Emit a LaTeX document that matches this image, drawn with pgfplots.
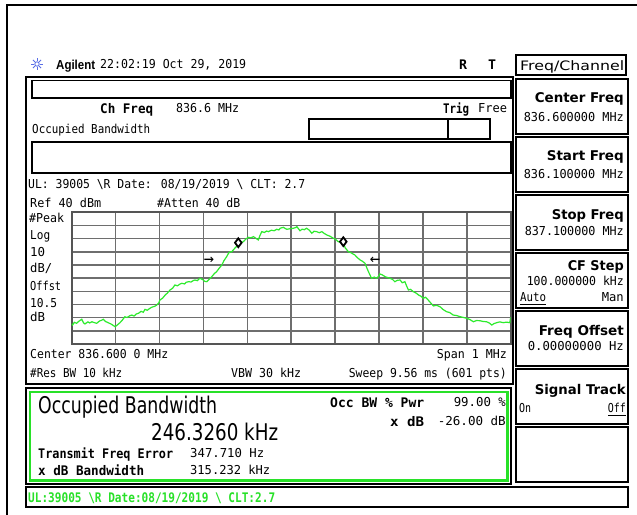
\documentclass[border=0pt]{standalone}
\usepackage{fontspec}
\usepackage{graphicx}
\usepackage{pgfplots}
\pgfplotsset{compat=1.18}
\setmainfont{DejaVu Sans}
\newfontfamily\mono{DejaVu Sans Mono}
\newfontfamily\arial{Liberation Sans}

\definecolor{trace}{RGB}{45,235,45}
\definecolor{scrgreen}{RGB}{40,225,40}
\definecolor{gridc}{RGB}{110,110,110}
\definecolor{framec}{RGB}{85,85,85}
\definecolor{logo}{RGB}{90,110,230}

% squeeze a piece of text to the width it has on the screen
\newcommand\fit[2]{\resizebox{#1pt}{\height}{#2}}
\newcommand\Lt[4]{\node[anchor=base west,inner sep=0pt] at (#1,#2) {\fit{#3}{#4}};}
\newcommand\Rt[4]{\node[anchor=base east,inner sep=0pt] at (#1,#2) {\fit{#3}{#4}};}
\newcommand\smt{\mono\fontsize{12.3}{14}\selectfont}
\newcommand\bmt{\mono\bfseries\fontsize{13.2}{15}\selectfont}
\newcommand\bst{\bfseries\fontsize{13.4}{15}\selectfont}
\newcommand\bigt{\fontsize{23}{26}\selectfont}

\begin{document}
\begin{tikzpicture}
\begin{scope}[x=1pt,y=-1pt]
\path[use as bounding box, fill=white] (0,0) rectangle (637,514);

% outer frame
\draw[line width=2pt] (7,520) -- (7,5) -- (640,5);

% header
\foreach \a in {0,45,...,315} \draw[logo, line width=0.8pt] (37,64) ++(\a:2.6) -- ++(\a:3.2);
\draw[logo, line width=0.8pt] (37,64) circle (2.2);
\Lt{56}{69}{39}{\arial\bfseries\fontsize{13}{15}\selectfont Agilent}
\Lt{100}{68.5}{146}{\smt 22:02:19  Oct 29, 2019}
\Lt{459}{69}{8}{\bmt R}
\Lt{488}{69}{8}{\bmt T}
\draw[line width=1.6pt] (516,55) rectangle (626,75);
\Lt{520}{70}{104}{\fontsize{13}{15}\selectfont Freq/Channel}

% main panel
\draw[line width=1.8pt] (26,77) rectangle (513,384);
\draw[line width=1.8pt] (32,80.5) rectangle (511,98);
\Lt{100}{113}{53}{\bmt Ch Freq}
\Lt{176}{112.5}{63}{\smt 836.6 MHz}
\Lt{443}{113}{26}{\bmt Trig}
\Lt{478}{112.5}{29}{\smt Free}
\Lt{32}{133.5}{118}{\smt Occupied Bandwidth}
\draw[line width=1.3pt] (309,119) rectangle (490,139);
\draw[line width=2.2pt] (448,119) -- (448,139);
\draw[line width=1.8pt] (32,142) rectangle (511,173);
\Lt{28}{188.5}{277}{\smt UL: 39005 \textbackslash R Date: 08/19/2019 \textbackslash{} CLT: 2.7}
\Lt{30}{207.5}{71}{\smt Ref 40 dBm}
\Lt{157}{207.5}{83}{\smt \#Atten 40 dB}
\Lt{29}{222.5}{35}{\smt \#Peak}
\Lt{30}{239.5}{20}{\smt Log}
\Lt{30}{256.5}{15}{\smt 10}
\Lt{30}{272.5}{22}{\smt dB/}
\Lt{30}{290.5}{31}{\smt Offst}
\Lt{30}{307}{27}{\smt 10.5}
\Lt{30}{321}{15}{\smt dB}
\Lt{30}{358.5}{138}{\smt Center 836.600 0 MHz}
\Rt{507}{358.5}{70}{\smt Span 1 MHz}
\Lt{30}{377.5}{92}{\smt \#Res BW 10 kHz}
\Lt{231}{377.5}{70}{\smt VBW 30 kHz}
\Rt{507}{377.5}{158}{\smt Sweep 9.56 ms (601 pts)}

% result box
\draw[line width=1.4pt] (26,388) rectangle (511,484);
\draw[scrgreen, line width=2.6pt] (29.8,391.8) rectangle (507.2,480.2);
\Lt{38}{413.5}{179}{\bigt Occupied Bandwidth}
\Lt{151}{440.5}{127}{\bigt 246.3260 kHz}
\Lt{330}{407}{94}{\bmt Occ BW \% Pwr}
\Rt{506}{406.5}{52}{\smt 99.00 \%}
\Lt{390}{426}{34}{\bmt x dB}
\Rt{506}{425.5}{68}{\smt -26.00 dB}
\Lt{38}{458}{135}{\bmt Transmit Freq Error}
\Lt{190}{457.5}{74}{\smt 347.710 Hz}
\Lt{38}{475.5}{106}{\bmt x dB Bandwidth}
\Lt{190}{474.5}{80}{\smt 315.232 kHz}

% bottom line
\draw[line width=1.5pt] (26,487) rectangle (628,507);
\Lt{28}{502.5}{247}{\color{scrgreen}\bmt UL:39005 \textbackslash R Date:08/19/2019 \textbackslash{} CLT:2.7}

% softkeys
\foreach \t in {79,137,195,253,311,369,427}
  \draw[line width=1.8pt] (516,\t) rectangle (628,\t+55);
\Rt{624}{102}{89}{\bst Center Freq}
\Rt{624}{121.5}{100}{\smt 836.600000 MHz}
\Rt{624}{160}{77}{\bst Start Freq}
\Rt{624}{178.5}{100}{\smt 836.100000 MHz}
\Rt{624}{219}{72}{\bst Stop Freq}
\Rt{624}{235.5}{99}{\smt 837.100000 MHz}
\Rt{624}{270}{56}{\bst CF Step}
\Rt{624}{285.5}{97}{\smt 100.000000 kHz}
\Lt{520}{301.5}{26}{\smt Auto}
\draw[line width=0.8pt] (520,304) -- (546,304);
\Rt{624}{301.5}{22}{\smt Man}
\Rt{624}{335}{85}{\bst Freq Offset}
\Rt{624}{350.5}{96}{\smt 0.00000000  Hz}
\Rt{626}{394}{91}{\bst Signal Track}
\Lt{519}{412.5}{12}{\smt On}
\Rt{626}{412.5}{18}{\smt Off}
\draw[line width=0.8pt] (608,415) -- (626,415);
\end{scope}

% trace window
\begin{axis}[
    at={(71.7pt,-212.3pt)}, anchor=north west,
    width=439pt, height=131.7pt, scale only axis,
    xmin=836.1, xmax=837.1, ymin=-60, ymax=40,
    xtick={836.1,836.2,836.3,836.4,836.5,836.6,836.7,836.8,836.9,837.0,837.1},
    ytick={-60,-50,-40,-30,-20,-10,0,10,20,30,40},
    xticklabels={}, yticklabels={},
    major tick length=0pt,
    grid=major,
    grid style={draw=gridc, line width=1.5pt},
    axis line style={draw=framec, line width=1.8pt},
  ]
\addplot[trace, line width=1.2pt] coordinates {
(836.100,-44.8) (836.102,-45.6) (836.106,-43.5) (836.111,-44.3) (836.116,-42.8)
(836.123,-41.2) (836.127,-43.9) (836.130,-44.8) (836.137,-43.2) (836.141,-44.0)
(836.146,-43.1) (836.151,-43.7) (836.157,-44.3) (836.163,-42.6) (836.168,-42.0)
(836.172,-41.2) (836.177,-42.9) (836.183,-43.8) (836.190,-44.9) (836.195,-46.0)
(836.199,-46.9) (836.204,-45.5) (836.210,-43.8) (836.215,-42.0) (836.221,-39.3)
(836.226,-39.9) (836.232,-38.6) (836.237,-38.0) (836.242,-38.8) (836.247,-37.2)
(836.252,-36.7) (836.258,-35.2) (836.263,-35.9) (836.267,-33.7) (836.272,-34.4)
(836.278,-32.9) (836.283,-32.0) (836.289,-31.4) (836.294,-30.4) (836.298,-29.0)
(836.301,-26.6) (836.307,-25.2) (836.313,-22.8) (836.318,-21.3) (836.324,-19.0)
(836.330,-17.6) (836.335,-15.2) (836.341,-15.8) (836.346,-14.6) (836.351,-13.9)
(836.357,-14.4) (836.361,-13.1) (836.366,-12.7) (836.372,-12.9) (836.377,-11.8)
(836.381,-11.4) (836.386,-11.9) (836.392,-10.1) (836.398,-11.0) (836.403,-12.4)
(836.408,-12.7) (836.413,-10.9) (836.419,-8.9) (836.425,-6.5) (836.430,-5.1)
(836.436,-2.4) (836.442,0.0) (836.447,3.4) (836.453,6.3) (836.457,8.8)
(836.461,10.1) (836.464,9.8) (836.468,11.4) (836.474,13.6) (836.480,15.2)
(836.485,16.9) (836.491,17.7) (836.496,19.5) (836.502,21.0) (836.508,20.6)
(836.514,21.5) (836.519,20.4) (836.525,19.0) (836.529,22.5) (836.533,25.3)
(836.539,24.7) (836.544,25.8) (836.548,25.3) (836.555,26.4) (836.561,26.0)
(836.567,27.1) (836.572,26.6) (836.575,27.9) (836.582,28.6) (836.587,27.6)
(836.590,27.1) (836.597,27.5) (836.605,27.9) (836.610,28.4) (836.613,29.1)
(836.620,26.0) (836.625,27.2) (836.630,26.8) (836.635,27.9) (836.641,26.5)
(836.647,24.1) (836.652,25.6) (836.658,25.3) (836.664,24.5) (836.670,25.3)
(836.675,24.0) (836.681,22.8) (836.688,21.9) (836.696,20.3) (836.701,19.5)
(836.707,17.7) (836.713,17.3) (836.719,16.5) (836.723,13.0) (836.726,11.8)
(836.730,10.1) (836.737,9.2) (836.741,8.3) (836.745,7.6) (836.751,5.5)
(836.757,3.8) (836.762,2.9) (836.768,1.3) (836.772,-2.0) (836.776,-5.1)
(836.780,-8.0) (836.783,-10.1) (836.789,-9.2) (836.795,-10.1) (836.799,-8.5)
(836.802,-6.8) (836.808,-7.6) (836.814,-8.9) (836.819,-9.5) (836.825,-10.1)
(836.831,-11.0) (836.836,-12.7) (836.842,-11.6) (836.848,-11.4) (836.853,-13.5)
(836.859,-12.7) (836.863,-16.0) (836.867,-19.0) (836.872,-18.5) (836.878,-20.3)
(836.884,-21.2) (836.890,-22.8) (836.895,-23.6) (836.901,-25.3) (836.906,-24.5)
(836.912,-26.6) (836.918,-28.9) (836.924,-31.1) (836.931,-30.6) (836.939,-31.7)
(836.946,-33.8) (836.954,-35.5) (836.961,-36.1) (836.969,-38.0) (836.977,-38.4)
(836.985,-39.3) (836.992,-39.8) (837.000,-40.5) (837.007,-41.4) (837.015,-43.1)
(837.022,-42.2) (837.030,-42.3) (837.037,-42.9) (837.045,-43.1) (837.051,-44.0)
(837.057,-45.6) (837.062,-44.5) (837.068,-43.8) (837.075,-43.2) (837.083,-43.8)
(837.090,-43.4) (837.098,-43.8) (837.100,-39.7)
};
% x dB markers
\addplot[only marks, mark=diamond*, mark size=4.4pt,
  mark options={fill=white, draw=black, line width=1.8pt}] coordinates {
(836.4795,16.9) (836.7187,17.7)
};
\node[font=\mono\fontsize{17}{17}\selectfont] at (axis cs:836.413,3.0) {→};
\node[font=\mono\fontsize{17}{17}\selectfont] at (axis cs:836.791,3.0) {←};
\end{axis}
\end{tikzpicture}
\end{document}
